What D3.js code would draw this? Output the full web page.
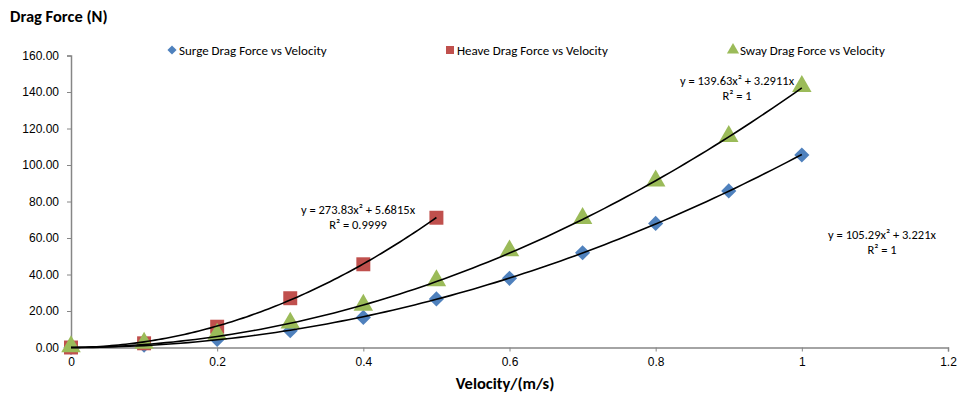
<!DOCTYPE html>
<html>
<head>
<meta charset="utf-8">
<script src="https://cdn.jsdelivr.net/npm/d3@7"></script>
<style>
  body { margin: 0; background: #fff; }
  svg { font-family: Carlito, Lato, "Open Sans", sans-serif; }
</style>
</head>
<body>
<div id="chart"></div>
<script>
// Drag force vs velocity, three directions, with quadratic trendlines
const velocity = [0, 0.1, 0.2, 0.3, 0.4, 0.5, 0.6, 0.7, 0.8, 0.9, 1.0]
const surge = [0, 1.3, 4.4, 9.2, 16.5, 26.6, 37.9, 51.9, 68.0, 85.8, 105.5]
const heave = [0, 2.3, 11.4, 27.0, 45.6, 71.1]
const sway = [0, 1.9, 6.8, 12.9, 22.7, 36.1, 52.5, 70.2, 90.8, 115.2, 142.6]

const seriesNames = ["Surge Drag Force vs Velocity", "Heave Drag Force vs Velocity", "Sway Drag Force vs Velocity"]
const trendLabels = [
  ["y = 105.29x² + 3.221x", "R² = 1"],
  ["y = 273.83x² + 5.6815x", "R² = 0.9999"],
  ["y = 139.63x² + 3.2911x", "R² = 1"]
]
const xTicks = [0, 0.2, 0.4, 0.6, 0.8, 1, 1.2]
const yTicks = [0, 20, 40, 60, 80, 100, 120, 140, 160]

const width = 979, height = 396
const x = d3.scaleLinear().domain([0, 1.2]).range([71, 948])
const y = d3.scaleLinear().domain([0, 160]).range([347.5, 55.5])

const svg = d3.select("#chart").append("svg")
  .attr("width", width).attr("height", height)

// Axes
const axisColor = "#868686"
const xAxis = svg.append("g")
  .attr("transform", `translate(0,${y(0)})`)
  .call(d3.axisBottom(x).tickValues(xTicks).tickSize(4).tickPadding(6)
    .tickFormat(d => d3.format("~g")(d)))
const yAxis = svg.append("g")
  .attr("transform", `translate(${x(0)},0)`)
  .call(d3.axisLeft(y).tickValues(yTicks).tickSize(4).tickPadding(8)
    .tickFormat(d3.format(".2f")))

for (const g of [xAxis, yAxis]) {
  g.select(".domain").attr("stroke", axisColor).attr("stroke-width", 1.5)
  g.selectAll(".tick line").attr("stroke", axisColor).attr("stroke-width", 1)
  g.selectAll("text").attr("fill", "#000").style("font-size", "12px")
}

// Least squares fit y = a x^2 + b x (through origin)
function fitQuad(xs, ys) {
  let s4 = 0, s3 = 0, s2 = 0, sy2 = 0, sy1 = 0
  xs.forEach((xv, i) => {
    s4 += xv ** 4; s3 += xv ** 3; s2 += xv ** 2
    sy2 += ys[i] * xv * xv; sy1 += ys[i] * xv
  })
  const det = s4 * s2 - s3 * s3
  return { a: (sy2 * s2 - s3 * sy1) / det, b: (s4 * sy1 - s3 * sy2) / det }
}

const series = [
  { name: seriesNames[0], xs: velocity, ys: surge, color: "#4F81BD", shape: "diamond" },
  { name: seriesNames[1], xs: velocity.slice(0, heave.length), ys: heave, color: "#C0504D", shape: "square" },
  { name: seriesNames[2], xs: velocity, ys: sway, color: "#9BBB59", shape: "triangle" }
]

const symbols = {
  diamond: d3.symbol().type(d3.symbolSquare).size(115),
  square: d3.symbol().type(d3.symbolSquare).size(195),
  triangle: d3.symbol().type(d3.symbolTriangle).size(165)
}

function markerTransform(shape, px, py) {
  if (shape === "diamond") return `translate(${px},${py}) rotate(45)`
  if (shape === "triangle") return `translate(${px},${py - 1})`
  return `translate(${px},${py})`
}

// Markers first (Excel draws trendlines on top)
series.forEach(s => {
  svg.append("g").selectAll("path")
    .data(s.ys)
    .join("path")
    .attr("d", symbols[s.shape])
    .attr("fill", s.color)
    .attr("transform", (d, i) => markerTransform(s.shape, x(s.xs[i]), y(d)))
})

// Trendlines
const line = d3.line().x(d => x(d[0])).y(d => y(d[1]))
series.forEach(s => {
  const { a, b } = fitQuad(s.xs, s.ys)
  const xmax = d3.max(s.xs)
  const pts = d3.range(0, 101).map(i => {
    const xv = xmax * i / 100
    return [xv, a * xv * xv + b * xv]
  })
  svg.append("path")
    .datum(pts)
    .attr("fill", "none")
    .attr("stroke", "#000")
    .attr("stroke-width", 1.6)
    .attr("d", line)
})

// Trendline labels
const labelPos = [[882, 239], [358, 214], [737, 85]]
trendLabels.forEach((lines, i) => {
  const t = svg.append("text")
    .attr("text-anchor", "middle")
    .attr("x", labelPos[i][0])
    .attr("y", labelPos[i][1])
    .style("font-size", "12.5px")
    .attr("fill", "#000")
  lines.forEach((l, j) => {
    t.append("tspan").attr("x", labelPos[i][0]).attr("dy", j === 0 ? 0 : 15).text(l)
  })
})

// Legend
const legendX = [172, 450, 733]
series.forEach((s, i) => {
  const g = svg.append("g").attr("transform", `translate(${legendX[i]},50)`)
  const sym = s.shape === "diamond" ? d3.symbol().type(d3.symbolSquare).size(42)
    : s.shape === "square" ? d3.symbol().type(d3.symbolSquare).size(64)
    : d3.symbol().type(d3.symbolTriangle).size(64)
  g.append("path")
    .attr("d", sym)
    .attr("fill", s.color)
    .attr("transform", s.shape === "diamond" ? "rotate(45)" : null)
  g.append("text")
    .attr("x", 7)
    .attr("y", 4.5)
    .style("font-size", "13px")
    .attr("fill", "#000")
    .text(s.name)
})

// Titles
svg.append("text")
  .attr("x", 10).attr("y", 22)
  .style("font-size", "16.5px").style("font-weight", "bold")
  .text("Drag Force (N)")

svg.append("text")
  .attr("x", 505).attr("y", 389)
  .attr("text-anchor", "middle")
  .style("font-size", "16.5px").style("font-weight", "bold")
  .text("Velocity/(m/s)")
</script>
</body>
</html>
